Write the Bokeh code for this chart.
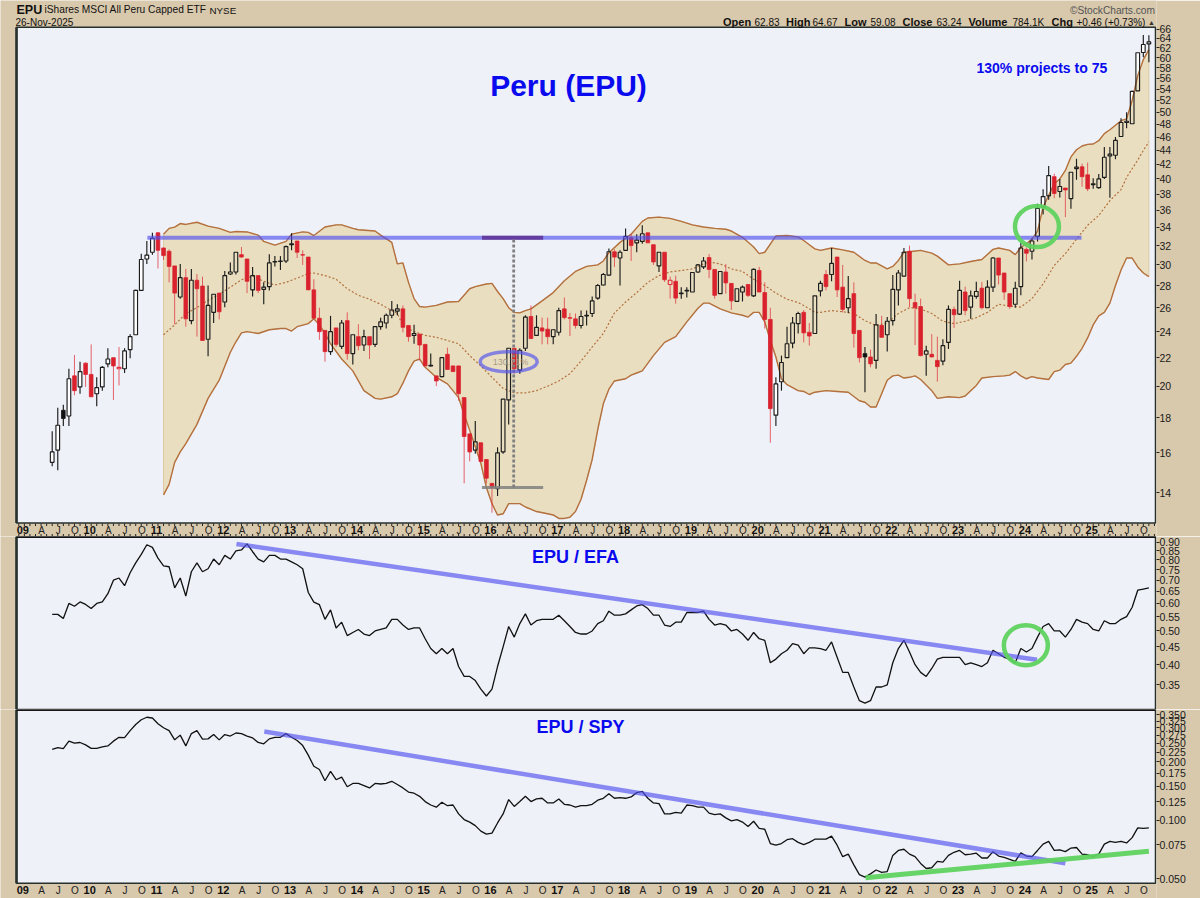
import math
from bokeh.plotting import figure
from bokeh.layouts import column
from bokeh.models import (Range1d, FixedTicker, PrintfTickFormatter, Label)
from bokeh.embed import file_html
from bokeh.resources import INLINE

FIRST_MONTH = 5  # Jun 2009, months since Jan 2009

opens = [15.5,16.15,18.45,18.1,20.7,19.95,21.6,20.8,19.5,19.95,
 21.55,22.0,21.2,21.2,22.6,23.75,27.55,30.6,31.3,33.4,
 31.75,31.4,29.9,26.95,28.75,24.9,28.5,27.95,23.4,25.6,
 27.3,26.5,29.1,29.3,31.05,30.6,27.6,28.95,27.65,27.9,
 30.3,30.35,30.4,32.1,32.5,31.05,30.8,27.6,25.1,24.1,
 22.45,24.3,22.85,24.9,22.3,23.6,22.95,23.6,23.0,24.4,
 24.7,25.35,25.7,25.9,24.5,23.7,23.8,23.0,21.4,20.7,
 20.65,22.25,21.4,21.4,19.25,17.05,16.15,16.55,15.65,14.45,
 14.2,16.05,19.1,22.7,21.1,22.7,25.25,23.7,24.3,24.2,
 23.6,23.95,25.9,25.15,25.05,24.5,25.3,25.5,26.85,28.05,
 29.0,31.35,30.7,31.5,32.85,32.3,32.45,33.4,32.1,29.9,
 31.3,28.1,28.4,27.25,27.5,27.4,29.3,29.8,30.75,29.55,
 27.25,29.3,28.2,26.55,27.4,28.1,27.05,29.45,27.35,25.0,
 18.15,20.3,22.0,23.1,24.65,25.6,23.95,23.85,27.5,29.05,
 29.05,30.8,27.85,26.0,27.25,24.1,22.3,22.05,21.8,24.5,
 23.75,24.9,27.6,28.9,31.4,26.45,26.1,22.25,22.25,21.8,
 21.75,23.15,25.85,25.45,27.4,26.05,27.0,27.75,26.0,27.85,
 30.7,29.2,27.25,26.3,27.9,31.6,31.4,33.0,36.4,37.8,
 40.3,38.35,38.8,37.45,41.4,41.65,40.55,39.25,38.85,40.2,
 43.2,43.3,46.1,48.3,48.1,53.7,61.05,62.83]

highs = [17.2,18.6,18.8,21.2,22.2,21.7,21.65,23.0,20.6,21.4,
 22.7,22.0,22.8,22.7,23.8,27.6,31.15,32.5,33.4,33.5,
 31.75,31.6,29.9,30.1,29.6,29.6,29.1,28.85,28.0,27.2,
 27.3,29.4,30.25,31.3,31.85,30.6,29.8,28.95,28.3,31.1,
 30.9,30.9,32.0,33.35,32.5,31.5,30.8,28.6,26.0,24.1,
 25.3,24.3,24.95,25.6,23.75,24.6,24.15,23.6,24.4,25.15,
 25.5,26.6,26.3,26.2,24.5,24.55,23.8,23.0,22.3,20.7,
 22.0,22.75,21.4,21.4,19.25,17.05,17.8,16.55,15.65,14.45,
 16.3,19.15,22.7,22.7,22.7,25.35,26.2,25.35,25.15,25.15,
 24.15,26.0,26.9,25.55,25.5,25.75,25.75,27.0,28.15,29.2,
 31.7,31.6,31.5,33.9,33.25,33.25,34.25,33.4,32.1,31.3,
 31.3,28.85,28.95,27.85,27.85,29.25,30.1,30.8,31.1,29.55,
 29.35,30.1,28.2,27.7,28.0,28.1,29.65,29.8,28.3,26.0,
 20.6,22.15,24.4,25.2,25.65,25.8,24.7,27.05,28.45,29.5,
 31.75,30.8,30.0,28.9,28.3,24.1,22.8,22.6,25.45,25.3,
 25.2,29.0,29.5,31.75,32.0,27.25,26.8,22.9,23.8,23.6,
 23.4,26.2,26.1,28.45,27.9,27.55,28.35,28.35,28.5,30.8,
 30.7,29.2,27.25,28.35,32.3,31.8,32.8,36.8,38.65,41.75,
 40.7,40.0,38.8,40.9,42.8,42.1,42.25,40.1,40.65,44.5,
 44.5,46.0,49.0,50.0,53.7,61.0,64.7,64.67]

lows = [15.3,15.1,17.5,17.5,19.4,19.5,19.95,19.3,18.7,19.7,
 21.3,19.1,20.05,20.9,21.95,23.75,27.55,30.1,31.05,29.65,
 30.5,28.3,24.6,26.8,24.4,24.6,23.6,23.3,22.1,24.7,
 25.0,26.05,29.0,29.05,30.75,27.3,27.0,27.3,26.3,27.55,
 29.85,29.5,30.2,31.5,30.7,30.0,27.6,25.1,23.35,21.7,
 22.2,22.8,22.65,21.85,21.5,22.55,22.5,21.9,22.8,24.15,
 24.25,25.1,25.35,23.95,23.2,23.05,21.8,21.4,21.35,20.0,
 20.6,21.15,21.0,19.05,14.45,15.55,15.95,15.55,14.45,13.1,
 13.85,15.95,17.6,20.85,20.85,22.5,23.45,23.65,23.0,23.0,
 23.0,23.7,25.0,23.65,24.25,24.25,24.5,25.2,26.7,28.0,
 28.95,29.8,28.0,31.5,30.4,31.3,32.2,32.3,30.0,29.3,
 28.35,26.8,26.35,26.8,26.9,27.4,29.2,29.6,28.7,26.8,
 27.25,27.25,25.8,26.55,26.55,26.95,26.95,27.4,24.25,16.55,
 17.5,19.7,22.0,22.7,23.85,23.15,22.9,23.85,27.0,27.55,
 28.4,26.95,25.6,25.55,22.75,21.65,19.6,21.3,21.2,23.55,
 22.45,24.5,26.2,28.9,26.05,22.95,22.1,20.7,22.05,20.3,
 21.45,22.65,24.3,25.4,25.35,25.05,26.8,25.85,26.0,27.4,
 28.1,26.7,25.9,26.0,27.1,30.35,30.55,32.45,35.5,37.3,
 37.5,37.6,35.2,36.2,39.9,38.95,38.4,38.7,38.7,40.0,
 37.55,42.7,46.0,47.4,48.1,53.7,60.1,59.08]

closes = [16.05,17.55,17.95,20.5,19.7,21.0,20.8,19.3,19.9,21.3,
 21.9,21.4,21.3,22.5,23.6,27.55,30.55,31.0,32.8,31.5,
 30.95,29.85,27.3,28.75,25.05,28.5,27.7,23.3,26.2,27.2,
 25.65,28.95,29.3,31.3,30.8,28.4,28.95,27.55,27.85,30.2,
 30.35,30.4,31.9,32.2,31.3,31.0,27.6,25.1,24.0,22.45,
 24.0,23.0,24.7,22.3,23.75,22.9,23.6,22.95,24.4,24.8,
 25.35,25.8,25.9,24.35,23.6,23.85,22.95,21.4,21.45,20.35,
 22.0,21.15,21.0,19.5,16.9,16.05,16.6,15.55,14.7,14.25,
 16.0,19.15,22.7,21.2,22.55,25.2,23.45,24.35,24.05,23.6,
 24.15,25.75,25.15,25.1,24.5,25.25,25.35,26.6,28.0,29.05,
 31.35,30.8,31.3,33.0,32.0,32.6,33.3,32.3,30.3,31.3,
 28.55,28.5,26.85,27.3,27.55,29.25,30.0,30.4,29.55,27.1,
 29.35,28.25,26.6,27.7,27.85,27.1,29.55,27.4,25.0,18.55,
 20.15,21.65,23.05,24.7,25.5,23.9,23.65,27.05,28.2,27.9,
 30.15,27.6,25.85,26.8,23.85,22.0,22.05,21.55,24.55,23.55,
 24.85,27.65,29.2,31.3,26.8,26.0,22.15,22.5,22.05,21.35,
 22.9,25.85,25.4,27.55,25.75,27.05,27.45,26.0,27.85,30.7,
 29.0,27.4,26.1,27.75,31.75,31.2,32.5,36.25,37.7,40.45,
 38.1,39.0,38.55,40.9,41.6,40.3,38.7,39.35,40.0,43.0,
 43.45,45.5,48.3,48.5,53.6,61.0,62.7,63.24]

# Bollinger bands: candle number and level, read at the chart's bends
upper_at = [20,21,22,23,24,26,28,30,32,33,35,37,38,40,42,43,45,46,47,49,51,52,54,55,58,59,61,62,
 63,64,65,66,67,69,71,73,75,76,78,79,80,81,82,83,84,85,86,88,90,92,94,96,98,99,100,102,104,106,107,109,
 111,113,115,117,119,121,122,124,126,127,128,130,132,134,135,136,137,138,140,142,144,146,147,148,150,151,
 152,153,154,156,158,159,161,163,165,167,169,170,172,173,174,175,176,177,178,179,180,181,182,183,184,185,
 186,187,188,189,190,192,193,194,195,196,197]
upper = [33.25,33.9,34.05,34.45,34.35,34.6,34.15,33.9,33.45,33.55,33.5,33.15,32.45,32.05,32.45,33.25,33.5,33.45,33.1,34.05,34.3,34.3,33.9,33.75,33.6,33.15,32.35,30.1,
 30.2,28.3,26.8,26.1,26.05,26.2,26.5,26.55,27.7,27.9,28.15,28.2,27.45,26.8,26.0,25.6,25.55,25.75,25.9,26.6,27.35,28.45,29.35,29.85,30.0,30.4,31.25,32.35,33.25,34.7,35.1,35.2,
 35.05,34.7,34.3,34.05,33.9,33.8,33.6,32.9,31.85,31.15,31.3,33.05,33.1,32.95,32.55,32.1,31.65,31.5,31.75,31.55,31.3,30.45,30.2,30.2,29.6,29.85,
 30.45,31.3,31.35,31.5,31.2,30.9,30.0,30.1,30.35,30.55,31.6,31.75,31.5,31.05,31.8,32.2,32.7,33.6,36.4,37.85,39.35,40.0,41.15,43.05,44.1,44.65,
 44.9,44.95,45.45,46.55,47.15,48.6,48.9,52.0,56.5,59.6,61.65]

lower_at = [20,21,22,23,24,26,28,30,32,33,34,35,37,39,41,42,43,44,46,47,48,49,50,52,54,56,58,59,61,62,
 63,64,65,66,67,69,71,73,74,75,77,78,79,80,81,82,84,85,87,89,90,91,92,93,94,95,96,97,98,99,100,101,103,104,105,106,108,
 110,112,114,116,117,118,120,122,124,125,126,127,128,129,130,131,132,134,135,136,137,139,141,143,145,146,147,148,149,150,
 151,152,153,154,155,156,158,159,161,163,164,165,166,167,169,171,172,173,174,175,176,177,179,180,181,182,183,184,185,186,
 187,188,189,190,191,192,193,194,195,196,197]
lower = [13.9,14.4,15.5,16.05,16.5,17.6,19.2,20.4,22.4,23.2,23.9,24.0,23.85,24.15,24.25,24.25,24.05,24.4,24.65,25.05,24.55,23.85,23.05,21.9,21.05,19.7,19.2,19.15,19.3,19.5,
 20.2,21.05,21.75,21.9,21.3,20.6,20.15,19.25,18.2,17.25,15.45,14.25,13.5,13.0,13.05,13.5,13.5,13.35,13.15,13.05,13.0,12.85,12.85,12.9,13.15,13.7,14.6,15.65,17.3,18.85,19.8,20.35,20.5,20.75,20.9,21.05,22.15,
 23.15,23.6,24.8,25.95,26.4,26.4,25.9,25.55,25.35,25.2,25.6,25.6,24.8,23.3,22.05,20.5,20.1,19.7,19.65,19.45,19.6,19.7,19.65,19.6,19.05,18.95,18.65,18.65,19.5,20.4,
 20.7,20.75,20.55,20.6,20.7,20.45,19.7,19.2,19.3,19.25,19.35,19.7,20.05,20.55,20.65,20.7,20.75,21.0,20.7,20.5,20.65,20.55,20.45,21.0,21.1,21.5,21.6,22.1,22.7,23.5,
 24.55,25.3,25.6,26.4,28.0,29.5,30.7,30.7,29.8,29.2,28.85]

mid_at = [20,22,24,26,28,30,32,34,36,38,40,42,44,46,47,49,51,53,55,57,59,61,62,
 63,65,67,69,71,73,75,77,79,81,83,85,87,89,91,93,95,97,99,101,103,105,107,109,111,113,115,117,118,120,122,124,126,128,130,132,134,
 135,136,137,138,140,142,144,146,148,150,152,154,156,158,160,162,164,166,168,170,172,174,176,178,180,182,184,186,188,190,192,193,195,196,197]
mid = [23.75,24.55,25.5,26.0,26.65,27.2,27.85,28.55,28.9,28.4,28.05,28.3,28.7,29.15,29.2,28.95,28.6,27.7,27.1,26.75,26.3,25.75,25.5,
 24.5,24.0,23.7,23.55,23.3,23.05,22.15,21.4,20.6,19.85,19.55,19.55,19.7,20.0,20.35,20.85,21.75,22.8,23.85,25.55,26.5,27.35,28.3,28.95,29.3,29.45,29.6,30.1,30.3,30.1,29.6,29.35,28.6,28.0,27.3,26.75,26.45,
 26.2,25.9,25.6,25.6,25.75,25.65,25.5,24.9,24.5,24.7,25.5,26.0,25.9,25.5,24.85,24.65,24.85,25.15,25.6,26.3,26.15,26.05,26.8,28.15,29.95,31.15,32.7,34.25,35.4,37.2,38.6,40.2,42.6,44.0,45.3]

efa_ratio = [.558,.558,.543,.600,.589,.606,.596,.58,.60,.606,
 .64,.70,.71,.675,.735,.785,.83,.885,.87,.81,
 .77,.765,.665,.71,.63,.74,.785,.74,.755,.805,
 .775,.825,.805,.85,.855,.89,.845,.805,.79,.825,
 .825,.805,.805,.79,.775,.755,.645,.605,.595,.54,
 .575,.51,.53,.485,.495,.505,.49,.485,.50,.505,
 .51,.54,.54,.52,.505,.51,.51,.475,.445,.43,
 .445,.43,.445,.395,.37,.37,.36,.34,.325,.34,
 .395,.45,.515,.48,.525,.56,.52,.535,.54,.54,
 .54,.555,.535,.515,.495,.49,.49,.50,.525,.535,
 .57,.555,.555,.56,.575,.59,.595,.58,.555,.555,
 .52,.515,.53,.53,.565,.565,.565,.57,.54,.52,
 .525,.52,.50,.505,.49,.47,.495,.475,.47,.405,
 .415,.43,.44,.46,.455,.43,.447,.447,.445,.44,
 .465,.42,.38,.38,.345,.315,.31,.315,.345,.345,
 .35,.405,.445,.47,.435,.40,.38,.37,.39,.415,
 .42,.42,.42,.42,.40,.405,.40,.395,.405,.44,
 .43,.42,.415,.405,.445,.435,.445,.48,.515,.525,
 .50,.50,.48,.505,.54,.53,.525,.505,.50,.535,
 .525,.525,.54,.55,.585,.655,.66,.665]

spy_ratio = [.232,.237,.234,.256,.25,.252,.245,.235,.235,.239,
 .242,.256,.268,.267,.29,.312,.33,.34,.337,.315,
 .30,.29,.26,.275,.242,.28,.29,.262,.263,.277,
 .26,.277,.272,.282,.28,.272,.266,.252,.248,.263,
 .268,.268,.28,.268,.258,.243,.217,.19,.183,.16,
 .179,.162,.167,.149,.155,.155,.151,.147,.155,.154,
 .155,.159,.153,.147,.14,.138,.133,.125,.12,.117,
 .124,.119,.12,.108,.101,.098,.094,.088,.085,.086,
 .097,.108,.128,.118,.125,.133,.125,.129,.13,.123,
 .123,.129,.121,.12,.117,.119,.119,.121,.127,.13,
 .137,.13,.131,.13,.132,.139,.141,.13,.123,.122,
 .108,.108,.11,.109,.12,.119,.117,.117,.109,.107,
 .108,.103,.0995,.101,.098,.093,.099,.091,.09,.076,
 .0745,.076,.0795,.0805,.077,.075,.077,.08,.08,.08,
 .083,.0745,.065,.067,.059,.0525,.051,.053,.0555,.054,
 .0545,.066,.07,.071,.067,.065,.06,.0565,.057,.0615,
 .061,.066,.0685,.07,.0665,.067,.0678,.064,.064,.069,
 .0655,.0645,.063,.0615,.068,.0655,.065,.07,.0755,.078,
 .07,.0705,.069,.072,.0725,.067,.0665,.065,.067,.0755,
 .078,.077,.078,.0765,.0815,.0915,.091,.0915]

main_ticks = list(range(14, 68, 2))
efa_ticks = [.35,.40,.45,.50,.55,.60,.65,.70,.75,.80,.85,.90]
spy_ticks = [.05,.075,.1,.125,.15,.175,.2,.225,.25,.275,.3,.325,.35]
years = ["09","10","11","12","13","14","15","16","17","18","19","20","21","22","23","24","25"]
quarter_letters = ["A","J","O"]

# annotations drawn on the chart, as (candle number, level)
resistance_from, resistance_to, resistance_level = 17.1, 184.9, 32.85
measure_at, measure_from, measure_to = 82.9, 14.25, 32.85
measure_cap_from, measure_cap_to = 77.2, 88.2
target_oval = (82.0, 21.7)
breakout_circle = (176.9, 34.1)
efa_trend = ([33.1, 176.9], [.89, .413])
efa_circle = (174.9, .455)
spy_trend = ([38.1, 182.0], [.287, .0602])
spy_support = ([146.1, 197.0], [.0506, .0694])

FONT = "Liberation Sans"
TAN = "#d8c8ac"
PANEL = "#eff1f8"
BAND = "#e9dfc0"
BROWN = "#b4703e"
RED = "#d9222d"
BLUE = "#5050f0"
GREEN = "#5fd25f"
FRAME = "#26302c"
# The frames fill each canvas up to the price axis: this renderer clips labels
# to the frame, so header and date band have to lie inside it.
X_RANGE = (-4.287, 203.37)
PANEL_LEFT, PANEL_RIGHT = -1.41, 203.19
MONTHS = list(range(-1, 204))


def mx(i):
    return i + FIRST_MONTH


def make_panel(height, y_low, y_high, panel_low, panel_high, ticks, fmt):
    p = figure(width=1200, height=height, x_range=Range1d(*X_RANGE), y_range=Range1d(y_low, y_high),
               y_axis_type="log", y_axis_location="right", x_axis_location=None,
               output_backend="svg", toolbar_location=None,
               min_border_left=0, min_border_right=44, min_border_top=0, min_border_bottom=0)
    p.background_fill_color = TAN
    p.border_fill_color = TAN
    p.outline_line_color = None
    p.grid.visible = False
    ax = p.yaxis[0]
    ax.ticker = FixedTicker(ticks=ticks)
    ax.formatter = PrintfTickFormatter(format=fmt)
    ax.major_label_text_font = FONT
    ax.major_label_text_font_size = "10.5px"
    ax.major_label_text_color = "#1a1a1a"
    ax.major_label_standoff = 0
    ax.major_tick_in = 0
    ax.major_tick_out = 3
    ax.minor_tick_line_color = None
    ax.axis_line_color = None
    ax.major_tick_line_color = "#222222"
    p.quad(left=[PANEL_LEFT], right=[PANEL_RIGHT], top=[panel_high], bottom=[panel_low],
           fill_color=PANEL, line_color=FRAME, line_width=1.5)
    p.line([PANEL_LEFT] * 2, [panel_low, panel_high], line_color=FRAME, line_width=2.5)
    if panel_high == y_high:   # top edge lies on the canvas edge: half of its width is clipped
        p.line([PANEL_LEFT, PANEL_RIGHT], [panel_high] * 2, line_color="#141414", line_width=3)
    return p


def hdr(p, frame_bottom, px, py, text, size="10px", bold=False, color="#111111", align="left"):
    p.add_layout(Label(x=px, y=frame_bottom - py, x_units="screen", y_units="screen", text=text,
                       text_font=FONT, text_font_size=size, text_font_style="bold" if bold else "normal",
                       text_color=color, text_align=align, text_baseline="middle"))


def date_labels(p, frame_bottom, label_center):
    y = frame_bottom - label_center
    for k, yr in enumerate(years):
        p.add_layout(Label(x=12 * k, y=y, y_units="screen", x_offset=-1.5, text=yr, text_font=FONT,
                           text_font_size="11px", text_font_style="bold", text_color="#111111",
                           text_align="center", text_baseline="middle"))
        for j, t in enumerate(quarter_letters):
            p.add_layout(Label(x=12 * k + 3 * (j + 1), y=y, y_units="screen", x_offset=0.5, text=t, text_font=FONT,
                               text_font_size="10px", text_color="#222222",
                               text_align="center", text_baseline="middle"))


def price_at(py):
    """Price scale of the top panel, calibrated on its tick labels."""
    return 14 * math.exp((492.3 - py) / 299)


# ---------------------------------------------------------------- price panel
p1 = make_panel(536, price_at(536), price_at(0), 12.65, 66.4, main_ticks, "%d")

# month ticks along both edges of the date band
p1.segment(x0=MONTHS, x1=MONTHS, y0=[price_at(523)] * len(MONTHS), y1=[price_at(525.5)] * len(MONTHS),
           line_color="#222222", line_width=1)
p1.segment(x0=MONTHS, x1=MONTHS, y0=[price_at(533.5)] * len(MONTHS), y1=[price_at(536)] * len(MONTHS),
           line_color="#222222", line_width=1)

n = len(closes)
xs = [mx(i) for i in range(n)]
prev = [closes[0] - 1] + closes[:-1]
body_top = [max(o, c) for o, c in zip(opens, closes)]
body_bot = [min(o, c) for o, c in zip(opens, closes)]
is_red = [c < q for c, q in zip(closes, prev)]
is_hollow = [c > o for o, c in zip(opens, closes)]
W = 0.66


def pick(flags, *cols):
    return [[v for v, f in zip(col, flags) if f] for col in cols]


# white insides outside the band: drawn first, the band covers them where it overlaps
hx, ht, hb = pick(is_hollow, xs, body_top, body_bot)
p1.vbar(x=hx, top=ht, bottom=hb, width=W, fill_color="#ffffff", line_color=None)

ux = [mx(i) for i in upper_at]
lx = [mx(i) for i in lower_at]
p1.patch(ux + lx[::-1], upper + lower[::-1], fill_color=BAND, line_color="#dcc9a0", line_width=1)
p1.line(ux, upper, line_color=BROWN, line_width=1.4)
p1.line(lx, lower, line_color=BROWN, line_width=1.4)
p1.line([mx(i) for i in mid_at], mid, line_color=BROWN, line_width=1.2, line_dash="2 2")

for red in (False, True):
    flag = [r == red for r in is_red]
    col = "#e0303c" if red else "#1c1c1c"
    lw = 1.0 if red else 1.15
    al = 0.75 if red else 1.0
    sx, sh, sl, st, sb = pick(flag, xs, highs, lows, body_top, body_bot)
    p1.segment(x0=sx, y0=sh, x1=sx, y1=st, line_color=col, line_width=lw, line_alpha=al)
    p1.segment(x0=sx, y0=sb, x1=sx, y1=sl, line_color=col, line_width=lw, line_alpha=al)
    solid = [f and not h for f, h in zip(flag, is_hollow)]
    bx, bt, bb = pick(solid, xs, body_top, body_bot)
    fill = RED if red else "#111111"
    p1.vbar(x=bx, top=bt, bottom=bb, width=W, fill_color=fill, line_color=fill, line_width=0.8)
    open_ = [f and h for f, h in zip(flag, is_hollow)]
    bx, bt, bb = pick(open_, xs, body_top, body_bot)
    p1.vbar(x=bx, top=bt, bottom=bb, width=W, fill_color=None, line_color=col, line_width=1.15)

p1.line([mx(resistance_from), mx(resistance_to)], [resistance_level] * 2, line_color=BLUE, line_alpha=0.65, line_width=4)
p1.line([mx(measure_cap_from), mx(measure_cap_to)], [resistance_level] * 2, line_color="#5a2a8a", line_alpha=0.8, line_width=4)
p1.line([mx(measure_at)] * 2, [measure_from, measure_to], line_color="#808080", line_width=2.8, line_dash="3 2")
p1.line([mx(measure_cap_from), mx(measure_cap_to)], [measure_from] * 2, line_color="#808080", line_alpha=0.85, line_width=3)
p1.ellipse(x=[mx(target_oval[0])], y=[target_oval[1]], width=57, height=20, width_units="screen", height_units="screen",
           fill_color=None, line_color=BLUE, line_alpha=0.65, line_width=3.5)
p1.ellipse(x=[mx(breakout_circle[0])], y=[breakout_circle[1]], width=44, height=41, width_units="screen", height_units="screen",
           fill_color=None, line_color=GREEN, line_alpha=0.95, line_width=4.5)

B1 = 536
hdr(p1, B1, 510, 361.5, "130.71%", "9px", False, "#a89a88", "center")
hdr(p1, B1, 568, 85, "Peru (EPU)", "30px", True, "#0a0aee", "center")
hdr(p1, B1, 976, 67, "130% projects to 75", "14px", True, "#0a0aee")
hdr(p1, B1, 16, 9, "EPU", "12.5px", True)
hdr(p1, B1, 44, 9, "iShares MSCI All Peru Capped ETF", "10.2px")
hdr(p1, B1, 209, 9.5, "NYSE", "9.8px")
hdr(p1, B1, 15, 22, "26-Nov-2025", "10px")
hdr(p1, B1, 1154.5, 9.5, "\u00a9StockCharts.com", "10.2px", False, "#555555", "right")
for px, t, b in [(722.5, "Open", True), (754, "62.83", False), (785.5, "High", True), (812, "64.67", False),
                 (844, "Low", True), (870, "59.08", False), (902, "Close", True), (936, "63.24", False),
                 (968, "Volume", True), (1012, "784.1K", False), (1051, "Chg", True), (1076, "+0.46 (+0.73%)", False)]:
    hdr(p1, B1, px, 21.5, t, "11px" if b else "10px", b)
hdr(p1, B1, 1151, 21.5, "\u25b2", "7px", False, "#333333", "center")
date_labels(p1, B1, 529.5)

# ---------------------------------------------------------------- EPU / EFA
p2 = make_panel(173, .2972, .9347, .2972, .9347, efa_ticks, "%.2f")
p2.line(xs, efa_ratio, line_color="#111111", line_width=1.3)
p2.line([mx(v) for v in efa_trend[0]], efa_trend[1], line_color=BLUE, line_alpha=0.65, line_width=4.5)
p2.ellipse(x=[mx(efa_circle[0])], y=[efa_circle[1]], width=44, height=40, width_units="screen", height_units="screen",
           fill_color=None, line_color=GREEN, line_alpha=0.95, line_width=4.5)
hdr(p2, 709, 575, 556.5, "EPU / EFA", "18px", True, "#0a0aee", "center")

# ---------------------------------------------------------------- EPU / SPY
p3 = make_panel(189, .03958, .3727, .04746, .3727, spy_ticks, "%.3f")
p3.line(xs, spy_ratio, line_color="#111111", line_width=1.3)
p3.line([mx(v) for v in spy_trend[0]], spy_trend[1], line_color=BLUE, line_alpha=0.65, line_width=4.5)
p3.line([mx(v) for v in spy_support[0]], spy_support[1], line_color=GREEN, line_alpha=0.95, line_width=5)
hdr(p3, 898, 580, 726.5, "EPU / SPY", "18px", True, "#0a0aee", "center")
date_labels(p3, 898, 889.5)

root = column(p1, p2, p3, spacing=0)
open("out.html", "w").write(file_html(root, INLINE))
